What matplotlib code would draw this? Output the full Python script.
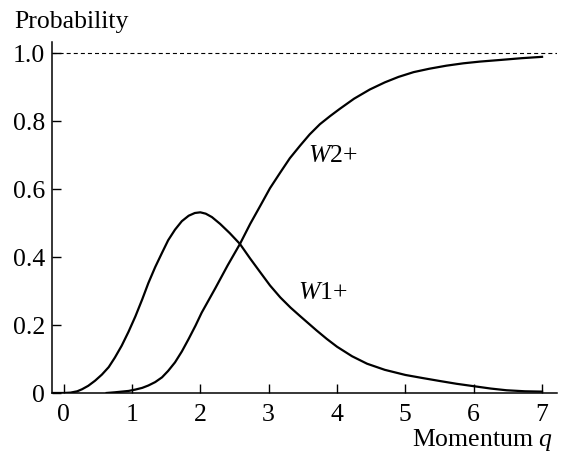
import numpy as np
import matplotlib
matplotlib.use("Agg")
import matplotlib.pyplot as plt

plt.rcParams["font.family"] = ["Liberation Serif", "DejaVu Serif"]
plt.rcParams["mathtext.fontset"] = "custom"
plt.rcParams["mathtext.it"] = "Liberation Serif:italic"
plt.rcParams["mathtext.rm"] = "Liberation Serif"
plt.rcParams["lines.scale_dashes"] = False

FS = 18.5

# W1+ : single ionisation probability vs momentum
q_w1 = [-0.15, 0.0, 0.1, 0.2, 0.27, 0.36, 0.46, 0.56, 0.66, 0.75, 0.85, 0.95,
        1.05, 1.15, 1.24, 1.34, 1.44, 1.53, 1.63, 1.73, 1.83, 1.92, 2.0, 2.08,
        2.17, 2.29, 2.43, 2.58, 2.73, 2.88, 3.02, 3.17, 3.32, 3.46, 3.58, 3.70,
        3.85, 4.0, 4.22, 4.44, 4.7, 5.0, 5.25, 5.51, 5.75, 6.0, 6.25, 6.48, 6.75,
        7.0]
p_w1 = [0.0, 0.0, 0.001, 0.005, 0.011, 0.021, 0.036, 0.054, 0.076, 0.104, 0.139,
        0.180, 0.225, 0.275, 0.323, 0.370, 0.412, 0.449, 0.480, 0.505, 0.521,
        0.529, 0.531, 0.527, 0.517, 0.497, 0.470, 0.438, 0.395, 0.354, 0.316,
        0.281, 0.251, 0.226, 0.205, 0.184, 0.159, 0.136, 0.108, 0.086, 0.068,
        0.053, 0.044, 0.035, 0.027, 0.020, 0.013, 0.008, 0.005, 0.004]

# W2+ : double ionisation probability vs momentum
q_w2 = [0.63, 0.75, 0.85, 0.95, 1.05, 1.15, 1.24, 1.34, 1.44, 1.53, 1.63, 1.73,
        1.83, 1.93, 2.02, 2.12, 2.22, 2.4, 2.58, 2.73, 2.88, 3.02, 3.17, 3.31,
        3.46, 3.6, 3.75, 3.9, 4.04, 4.25, 4.48, 4.7, 4.9, 5.12, 5.35, 5.6, 5.85,
        6.09, 6.4, 6.7, 7.0]
p_w2 = [0.0, 0.002, 0.004, 0.006, 0.010, 0.015, 0.022, 0.032, 0.046, 0.065, 0.090,
        0.122, 0.159, 0.198, 0.236, 0.272, 0.308, 0.375, 0.438, 0.497, 0.551,
        0.602, 0.648, 0.690, 0.727, 0.760, 0.790, 0.814, 0.835, 0.865, 0.892,
        0.913, 0.929, 0.943, 0.953, 0.962, 0.969, 0.974, 0.979, 0.984, 0.988]

x_ticks = [0, 1, 2, 3, 4, 5, 6, 7]
y_ticks = [0, 0.2, 0.4, 0.6, 0.8, 1.0]
y_tick_labels = ["0", "0.2", "0.4", "0.6", "0.8", "1.0"]

fig = plt.figure(figsize=(5.65, 4.56), dpi=100)
ax = fig.add_axes([0.0926, 0.136, 0.8934, 0.770])

ax.plot(q_w1, p_w1, color="black", lw=1.6, solid_joinstyle="round")
ax.plot(q_w2, p_w2, color="black", lw=1.6, solid_joinstyle="round")
ax.axhline(1.0, color="black", lw=0.8, linestyle=(0, (2.9, 2.2)))

ax.text(3.58, 0.70, r"$W$2+", fontsize=FS, ha="left", va="center")
ax.text(3.43, 0.297, r"$W$1+", fontsize=FS, ha="left", va="center")

ax.set_xlim(-0.165, 7.22)
ax.set_ylim(0, 1.032)
ax.set_xticks(x_ticks)
ax.set_yticks(y_ticks)
ax.set_yticklabels(y_tick_labels)

for side in ("top", "right"):
    ax.spines[side].set_visible(False)
for side in ("left", "bottom"):
    ax.spines[side].set_linewidth(1.1)

ax.tick_params(axis="both", direction="in", length=6.5, width=1.0, labelsize=FS)
ax.tick_params(axis="x", pad=7)
ax.tick_params(axis="y", pad=5)

fig.text(14 / 565, 1 - 22 / 456, "Probability", fontsize=FS, ha="left", va="center")
fig.text(553 / 565, 1 - 446 / 456, r"Momentum $q$", fontsize=FS, ha="right", va="baseline")

fig.savefig("out.png", dpi=100)
